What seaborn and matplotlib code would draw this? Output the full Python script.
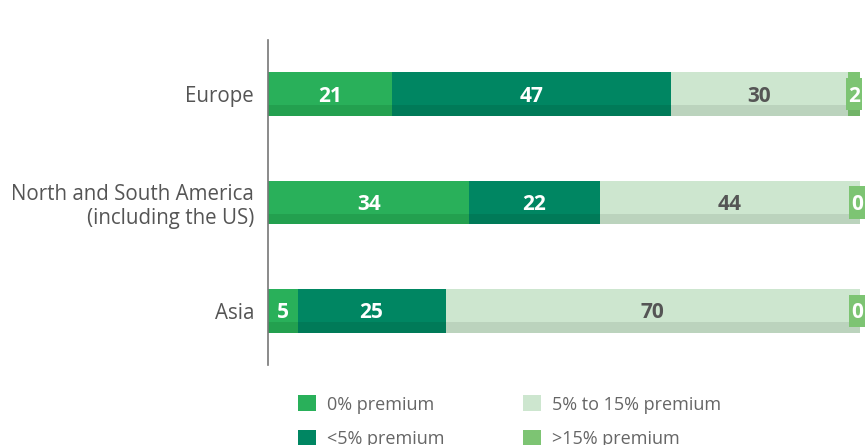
import matplotlib
matplotlib.use("Agg")
import matplotlib.pyplot as plt
import seaborn as sns
import numpy as np
import pandas as pd
from matplotlib.patches import Patch

categories = ["Europe", "North and South America\n(including the US)", "Asia"]
series_names = ["0% premium", "<5% premium", "5% to 15% premium", ">15% premium"]
zero_prem = [21, 34, 5]
lt5_prem = [47, 22, 25]
p5_15_prem = [30, 44, 70]
gt15_prem = [2, 0, 0]

colors = ["#29b05a", "#008662", "#cde6cf", "#7dc473"]
strip_colors = ["#23a04f", "#007a58", "#bbd3bd", "#72b468"]
label_colors = ["white", "white", "#555555", "white"]

sns.set_theme(style="white")
plt.rcParams["font.family"] = ["Open Sans", "DejaVu Sans"]

fig = plt.figure(figsize=(8.65, 4.45), dpi=100)
ax = fig.add_axes([268 / 865, 1 - 365 / 445, 592 / 865, 325 / 445])

values = [zero_prem, lt5_prem, p5_15_prem, gt15_prem]
vals = np.array(values, dtype=float)
cum = np.cumsum(vals, axis=0)
lefts = cum - vals

bar_h = 0.406
# stacked bars: draw cumulative totals from largest to smallest
for i in range(len(series_names) - 1, -1, -1):
    df = pd.DataFrame({"cat": categories, "val": cum[i]})
    sns.barplot(data=df, x="val", y="cat", orient="h", color=colors[i],
                width=bar_h, saturation=1, ax=ax, linewidth=0)

ypos = np.arange(len(categories))
strip_h = 0.1
for i in range(len(series_names)):
    ax.barh(ypos + bar_h / 2 - strip_h / 2, vals[i], left=lefts[i], height=strip_h,
            color=strip_colors[i], linewidth=0)

for i in range(len(series_names)):
    for j in range(len(categories)):
        v = vals[i][j]
        x = lefts[i][j] + v / 2
        if i == 3:
            x = min(x, 99.5)
            bars = ax.barh(ypos[j], 2.8, left=x - 1.4, height=0.3,
                           color=colors[i], linewidth=0)
            for b in bars:
                b.set_clip_on(False)
        ax.text(x, ypos[j] + 0.02, f"{int(v)}", ha="center", va="center", fontsize=15,
                fontweight="bold", color=label_colors[i], clip_on=False)

ax.set_xlim(0, 100)
ax.set_ylim(2.5, -0.5)
ax.set_xlabel("")
ax.set_ylabel("")
ax.set_xticks([])
for s in ["top", "right", "bottom"]:
    ax.spines[s].set_visible(False)
ax.spines["left"].set_color("#777777")
ax.spines["left"].set_linewidth(1.2)
ax.tick_params(axis="y", length=0, pad=10, labelsize=14.8, labelcolor="#555555")
for t in ax.get_yticklabels():
    t.set_multialignment("right")

handles = [Patch(facecolor=c, edgecolor="none") for c in colors]
fig.legend(handles, series_names, ncol=2, loc="upper left",
           bbox_to_anchor=(282 / 865, 1 - 379 / 445), frameon=False,
           fontsize=13, labelcolor="#666666", handlelength=1.0, handleheight=1.0,
           handletextpad=0.6, columnspacing=4.35, labelspacing=0.9, borderpad=0.4)

fig.savefig("out.png", dpi=100)
